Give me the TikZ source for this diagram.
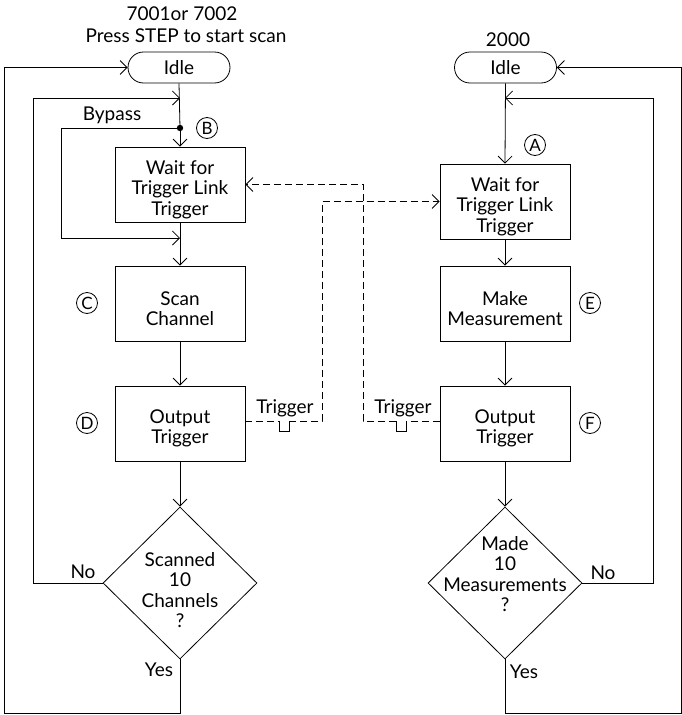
\documentclass[tikz,border=0pt]{standalone}
\usepackage{fontspec}
\setmainfont{Lato}
\usetikzlibrary{arrows.meta,shapes.geometric,shapes.misc}
\begin{document}
\begin{tikzpicture}[x=1pt,y=-1pt, line width=0.8pt,
 every node/.style={font=\fontsize{19}{20.5}\selectfont},
 proc/.style={draw, minimum width=130pt, minimum height=75pt, inner sep=0pt},
 ptxt/.style={inner sep=0pt, align=center, yshift=-5pt},
 term/.style={draw, rounded rectangle, minimum width=102pt, minimum height=31pt, inner sep=0pt},
 dec/.style={draw, diamond, minimum width=154pt, minimum height=152pt, inner sep=0pt},
 tag/.style={draw, circle, minimum size=21pt, inner sep=0pt, font=\fontsize{17}{17}\selectfont},
 lbl/.style={inner sep=0pt},
 arr/.style={-{Straight Barb[length=7pt,width=14pt]}},
 dsh/.style={dash pattern=on 7pt off 4pt}]
\useasboundingbox (0,0) rectangle (681,715);

% titles
\node[lbl] (t1) at (182,14) {7001or 7002};
\node[lbl] (t1b) at (186,36) {Press STEP to start scan};
\node[lbl] (t2) at (508,40) {2000};

% left column
\node[term] (li) at (179,67.5) {Idle};
\node[proc] (l1) at (180,184.5) {};
\node[ptxt] (l1t) at (l1) {Wait for\\Trigger Link\\Trigger};
\node[proc] (l2) at (180,303.5) {};
\node[ptxt] (l2t) at (l2) {Scan\\Channel};
\node[proc] (l3) at (180,423.5) {};
\node[ptxt] (l3t) at (l3) {Output\\Trigger};
\node[dec] (ld) at (180,583) {};
\node[lbl, align=center] (ldt) at (180,590) {Scanned\\10\\Channels\\?};

% right column
\node[term] (ri) at (505.5,67.5) {Idle};
\node[proc] (r1) at (505,201.5) {};
\node[ptxt] (r1t) at (r1) {Wait for\\Trigger Link\\Trigger};
\node[proc] (r2) at (505,303.5) {};
\node[ptxt] (r2t) at (r2) {Make\\Measurement};
\node[proc] (r3) at (505,423.5) {};
\node[ptxt] (r3t) at (r3) {Output\\Trigger};
\node[dec] (rd) at (505,583) {};
\node[lbl, align=center] (rdt) at (505,574) {Made\\10\\Measurements\\?};

% tags
\node[tag] (tb) at (207,128) {B};
\node[tag] (ta) at (535,145) {A};
\node[tag] (tc) at (87,303) {C};
\node[tag] (td) at (87,423) {D};
\node[tag] (te) at (590,303) {E};
\node[tag] (tf) at (590,423) {F};

% coordinates
\coordinate (dot) at (180,128);
\coordinate (lj) at (180,98);
\coordinate (lb) at (180,238);
\coordinate (rj) at (505,98);

% left flow
\draw (li.south) -- (dot);
\draw[arr] (dot) -- (l1.north);
\fill (dot) circle (3.2pt);
\draw[arr] (l1.south) -- (l2.north);
\draw[arr] (l2.south) -- (l3.north);
\draw[arr] (l3.south) -- (ld.north);
\draw[arr] (ld.south) -- (180,713) -- (4,713) -- (4,67.5) -- (li.west);
\draw[arr] (ld.west) -- (33,583) -- (33,98) -- (lj);
\draw[arr] (dot) -- (61,128) -- (61,238) -- (lb);
\node[lbl] (bp) at (112,115) {Bypass};
\node[lbl] (lno) at (83,572) {No};
\node[lbl] (lyes) at (159,670) {Yes};

% right flow
\draw[arr] (ri.south) -- (r1.north);
\draw[arr] (r1.south) -- (r2.north);
\draw[arr] (r2.south) -- (r3.north);
\draw[arr] (r3.south) -- (rd.north);
\draw[arr] (rd.east) -- (653,583) -- (653,98) -- (rj);
\draw[arr] (rd.south) -- (505,713) -- (681,713) -- (681,67.5) -- (ri.east);
\node[lbl] (rno) at (603,573) {No};
\node[lbl] (ryes) at (524,672) {Yes};

% dashed trigger links
\draw[dsh] (l3.east |- 0,421) -- (279,421);
\draw (279,421) -- (279,431) -- (289,431) -- (289,421);
\draw[dsh, arr] (289,421) -- (322,421) -- (322,201.5) -- (r1.west);
\draw[dsh] (r3.west |- 0,421) -- (406,421);
\draw (406,421) -- (406,431) -- (396,431) -- (396,421);
\draw[dsh, arr] (396,421) -- (363,421) -- (363,184.5) -- (l1.east);
\node[lbl] (trl) at (285,408) {Trigger};
\node[lbl] (trr) at (403,408) {Trigger};
\end{tikzpicture}
\end{document}
